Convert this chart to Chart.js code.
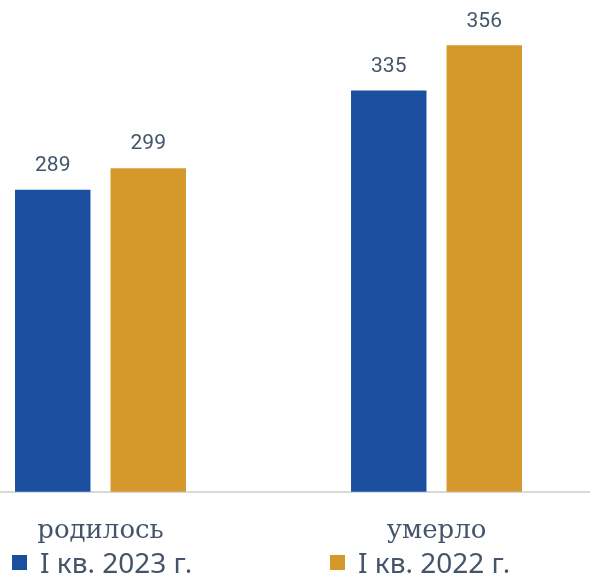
<!DOCTYPE html>
<html>
<head>
<meta charset="utf-8">
<script src="https://cdn.jsdelivr.net/npm/chart.js@4/dist/chart.umd.min.js"></script>
<style>
  html, body { margin: 0; padding: 0; background: #fff; overflow: hidden; }
  #wrap { position: relative; width: 590px; height: 575px; }
  .leg { position: absolute; top: 548px; height: 28px; line-height: 28px; display: flex; align-items: center;
         font-family: "Noto Sans", sans-serif; font-size: 28px; color: #44546a; white-space: nowrap; }
  .leg span.box { display: inline-block; width: 15px; height: 15px; margin-right: 13px; }
</style>
</head>
<body>
<div id="wrap">
  <canvas id="myChart" width="590" height="575"></canvas>
  <div class="leg" id="leg0" style="left:12px"><span class="box"></span><span class="txt"></span></div>
  <div class="leg" id="leg1" style="left:330px"><span class="box"></span><span class="txt"></span></div>
</div>
<script>
// data
var categories = ['родилось', 'умерло'];
var seriesNames = ['I кв. 2023 г.', 'I кв. 2022 г.'];
var values2023 = [289, 335];
var values2022 = [299, 356];
var colors = ['#1a4fa0', '#d4982b'];

function toPoints(arr) {
  return arr.map(function (v, i) { return { x: i, y: v }; });
}

// value labels above bars
var valueLabels = {
  id: 'valueLabels',
  afterDatasetsDraw: function (chart) {
    var ctx = chart.ctx;
    ctx.save();
    ctx.font = '21px Roboto';
    ctx.fillStyle = '#44546a';
    ctx.textAlign = 'center';
    ctx.textBaseline = 'middle';
    chart.data.datasets.forEach(function (ds, di) {
      chart.getDatasetMeta(di).data.forEach(function (bar, i) {
        ctx.fillText(ds.data[i].y, bar.x, bar.y - 24);
      });
    });
    ctx.restore();
  }
};

new Chart('myChart', {
  type: 'bar',
  data: {
    datasets: [
      { label: seriesNames[0], data: toPoints(values2023), backgroundColor: colors[0] },
      { label: seriesNames[1], data: toPoints(values2022), backgroundColor: colors[1] }
    ]
  },
  options: {
    responsive: false,
    animation: false,
    categoryPercentage: 0.5685,
    barPercentage: 0.79,
    layout: { padding: { top: 0, left: 0, right: 0, bottom: 4 } },
    plugins: { legend: { display: false }, tooltip: { enabled: false } },
    scales: {
      x: {
        type: 'linear',
        offset: false,
        bounds: 'data',
        min: -0.2991,
        max: 1.4568,
        afterBuildTicks: function (scale) {
          scale.ticks = categories.map(function (c, i) { return { value: i }; });
        },
        ticks: {
          autoSkip: false,
          maxRotation: 0,
          padding: 24,
          color: '#44546a',
          font: { family: 'DejaVu Serif', size: 26 },
          callback: function (v) { return categories[v]; }
        },
        grid: { display: false, drawTicks: false, offset: false },
        border: { display: true, color: '#d9d9d9', width: 2 }
      },
      y: {
        display: false,
        min: 149,
        max: 377
      }
    }
  },
  plugins: [valueLabels]
});

// legend
seriesNames.forEach(function (n, i) {
  var el = document.getElementById('leg' + i);
  el.querySelector('.box').style.background = colors[i];
  el.querySelector('.txt').textContent = n;
});
</script>
</body>
</html>
